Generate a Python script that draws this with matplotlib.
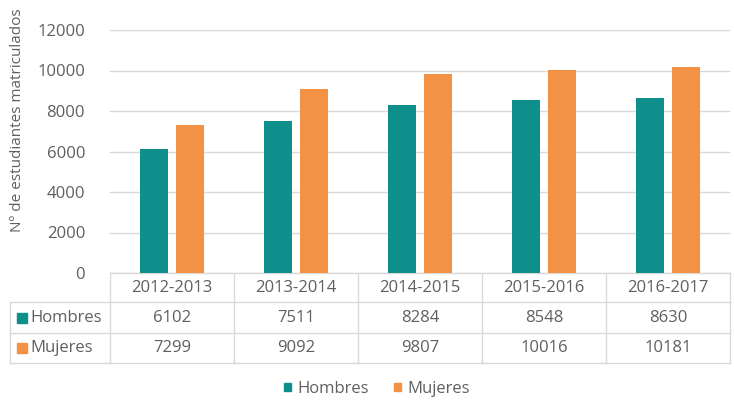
import numpy as np
import matplotlib.pyplot as plt
from matplotlib.patches import Rectangle
from matplotlib.transforms import blended_transform_factory

cursos = ['2012-2013', '2013-2014', '2014-2015', '2015-2016', '2016-2017']
hombres = [6102, 7511, 8284, 8548, 8630]
mujeres = [7299, 9092, 9807, 10016, 10181]
series = ['Hombres', 'Mujeres']
yticks = [0, 2000, 4000, 6000, 8000, 10000, 12000]

c_h = '#0e8f8c'
c_m = '#f39244'
gris = '#5f5f5f'
linea = '#d9d9d9'

plt.rcParams['font.family'] = ['Open Sans', 'DejaVu Sans']
fs = 12

W, H = 734, 401
fig = plt.figure(figsize=(W / 100, H / 100), dpi=100)
# plot area in pixels: x 110..730, y 30..273
ax = fig.add_axes([110 / W, (H - 273) / H, 620 / W, 243 / H])

x = np.arange(len(cursos))
bw = 0.22
ax.bar(x - 0.145, hombres, bw, color=c_h, zorder=3)
ax.bar(x + 0.145, mujeres, bw, color=c_m, zorder=3)

ax.set_xlim(-0.5, len(cursos) - 0.5)
ax.set_ylim(0, 12000)
ax.set_yticks(yticks)
ax.set_yticklabels([str(t) for t in yticks], color=gris, fontsize=fs)
ax.set_xticks([])
ax.grid(axis='y', color=linea, lw=1, zorder=0)
for s in ax.spines.values():
    s.set_visible(False)
ax.tick_params(axis='y', length=0, pad=18)

fig.text(18 / W, (H - 120) / H, 'Nº de estudiantes matriculados', rotation=90,
         ha='center', va='center', color=gris, fontsize=11)

# data table under the axis (axes-fraction y, data x)
tr = blended_transform_factory(ax.transData, ax.transAxes)
px = 1 / 243.0
ux = 1 / 124.0
row_y = [0, -29 * px, -60 * px, -90 * px]
left = -0.5 - 100 * ux
right = len(cursos) - 0.5
kw = dict(transform=tr, clip_on=False, color=linea, lw=1)
ax.plot([-0.5, right], [row_y[0]] * 2, **kw)
for yy in row_y[1:]:
    ax.plot([left, right], [yy] * 2, **kw)
ax.plot([-0.5, -0.5], [row_y[0], row_y[3]], **kw)
ax.plot([left, left], [row_y[1], row_y[3]], **kw)
for i in range(len(cursos)):
    ax.plot([i + 0.5, i + 0.5], [row_y[0], row_y[3]], **kw)

for i, c in enumerate(cursos):
    ax.text(i, (row_y[0] + row_y[1]) / 2, c, transform=tr, ha='center',
            va='center', color=gris, fontsize=fs)
for r, (vals, name, col) in enumerate([(hombres, series[0], c_h),
                                       (mujeres, series[1], c_m)]):
    ym = (row_y[r + 1] + row_y[r + 2]) / 2
    for i, v in enumerate(vals):
        ax.text(i, ym, str(v), transform=tr, ha='center', va='center',
                color=gris, fontsize=fs)
    ax.add_patch(Rectangle((left + 7 * ux, ym - 5 * px), 10 * ux, 10 * px,
                           transform=tr, clip_on=False, color=col))
    ax.text(left + 20 * ux, ym, name, transform=tr, ha='left', va='center',
            color=gris, fontsize=fs)

# legend
handles = [Rectangle((0, 0), 1, 1, color=c_h), Rectangle((0, 0), 1, 1, color=c_m)]
fig.legend(handles, series, loc='center', bbox_to_anchor=(377 / W, (H - 389) / H),
           ncol=2, frameon=False, fontsize=fs, labelcolor=gris,
           handlelength=0.42, handleheight=0.42, handletextpad=0.4,
           columnspacing=1.5)

fig.savefig('out.png', dpi=100)
